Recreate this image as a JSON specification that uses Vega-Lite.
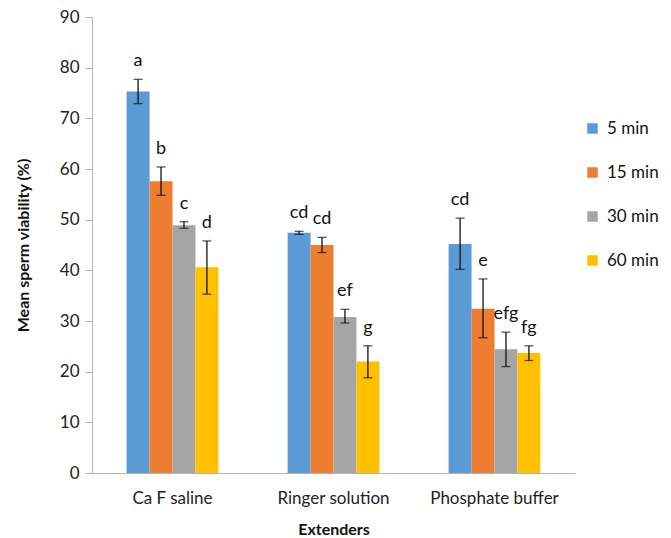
{
  "$schema": "https://vega.github.io/schema/vega-lite/v6.json",
  "width": 483,
  "height": 456,
  "autosize": {"type": "none"},
  "padding": {"left": 92, "top": 17, "right": 96, "bottom": 65},
  "background": "white",
  "config": {
    "font": "Lato",
    "view": {"stroke": null},
    "axis": {"grid": false, "domainColor": "#b3b3b3", "tickColor": "#b3b3b3", "labelColor": "#222", "titleColor": "#111", "labelFont": "Lato", "titleFont": "Lato"}
  },
  "data": {
    "values": [
      {"extender": "Ca F saline", "time": "5 min", "value": 75.3, "lo": 72.9, "hi": 77.7, "letter": "a"},
      {"extender": "Ca F saline", "time": "15 min", "value": 57.6, "lo": 54.8, "hi": 60.4, "letter": "b"},
      {"extender": "Ca F saline", "time": "30 min", "value": 48.9, "lo": 48.3, "hi": 49.6, "letter": "c"},
      {"extender": "Ca F saline", "time": "60 min", "value": 40.6, "lo": 35.3, "hi": 45.8, "letter": "d"},
      {"extender": "Ringer solution", "time": "5 min", "value": 47.4, "lo": 47.1, "hi": 47.7, "letter": "cd"},
      {"extender": "Ringer solution", "time": "15 min", "value": 45.0, "lo": 43.5, "hi": 46.5, "letter": "cd"},
      {"extender": "Ringer solution", "time": "30 min", "value": 30.8, "lo": 29.6, "hi": 32.3, "letter": "ef"},
      {"extender": "Ringer solution", "time": "60 min", "value": 22.0, "lo": 18.8, "hi": 25.1, "letter": "g"},
      {"extender": "Phosphate buffer", "time": "5 min", "value": 45.2, "lo": 40.2, "hi": 50.3, "letter": "cd"},
      {"extender": "Phosphate buffer", "time": "15 min", "value": 32.4, "lo": 26.7, "hi": 38.3, "letter": "e"},
      {"extender": "Phosphate buffer", "time": "30 min", "value": 24.4, "lo": 21.0, "hi": 27.8, "letter": "efg"},
      {"extender": "Phosphate buffer", "time": "60 min", "value": 23.7, "lo": 22.2, "hi": 25.1, "letter": "fg"}
    ]
  },
  "encoding": {
    "x": {
      "field": "extender", "type": "nominal",
      "sort": ["Ca F saline", "Ringer solution", "Phosphate buffer"],
      "scale": {"paddingInner": 0.43, "paddingOuter": 0.215},
      "axis": {"title": "Extenders", "labelAngle": 0, "ticks": false, "labelFontSize": 17, "labelPadding": 17, "titleFontSize": 16, "titleFontWeight": "bold", "titlePadding": 15}
    },
    "xOffset": {
      "field": "time", "type": "nominal",
      "sort": ["5 min", "15 min", "30 min", "60 min"],
      "scale": {"paddingInner": 0, "paddingOuter": 0}
    }
  },
  "layer": [
    {
      "mark": {"type": "bar"},
      "encoding": {
        "y": {
          "field": "value", "type": "quantitative",
          "scale": {"domain": [0, 90]},
          "axis": {"title": "Mean sperm viability (%)", "values": [0,10,20,30,40,50,60,70,80,90], "tickSize": 7, "labelFontSize": 17, "labelPadding": 6, "titleFontSize": 16, "titleFontWeight": "bold", "titlePadding": 28}
        },
        "color": {
          "field": "time", "type": "nominal",
          "scale": {"domain": ["5 min", "15 min", "30 min", "60 min"], "range": ["#5B9BD5", "#ED7D31", "#A5A5A5", "#FFC000"]},
          "legend": {"title": null, "orient": "none", "legendX": 492, "legendY": 103, "symbolType": "square", "symbolSize": 110, "symbolStrokeWidth": 0, "labelFontSize": 17, "labelColor": "#111", "rowPadding": 26, "labelOffset": 6}
        }
      }
    },
    {
      "mark": {"type": "rule", "color": "#111", "strokeWidth": 1.3},
      "encoding": {
        "y": {"field": "lo", "type": "quantitative"},
        "y2": {"field": "hi"}
      }
    },
    {
      "mark": {"type": "tick", "color": "#111", "thickness": 1.3, "size": 9},
      "encoding": {
        "y": {"field": "lo", "type": "quantitative"}
      }
    },
    {
      "mark": {"type": "tick", "color": "#111", "thickness": 1.3, "size": 9},
      "encoding": {
        "y": {"field": "hi", "type": "quantitative"}
      }
    },
    {
      "mark": {"type": "text", "baseline": "alphabetic", "dy": -13, "fontSize": 18, "color": "#111"},
      "encoding": {
        "y": {"field": "hi", "type": "quantitative"},
        "text": {"field": "letter"}
      }
    }
  ]
}
